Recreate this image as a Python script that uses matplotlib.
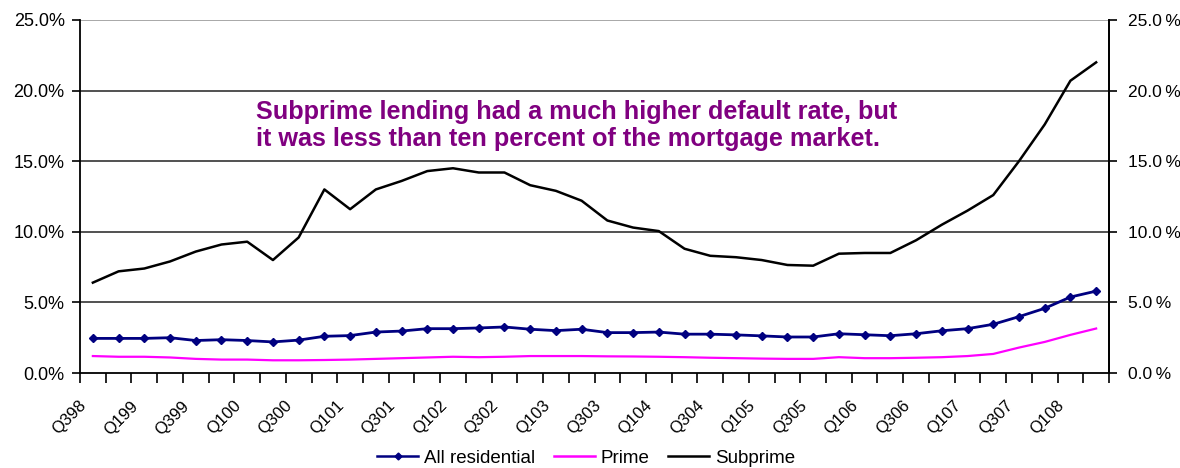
import matplotlib
matplotlib.use("Agg")
import matplotlib.pyplot as plt
from matplotlib.ticker import FuncFormatter, FixedLocator
import matplotlib.transforms as mtransforms

plt.rcParams['font.family'] = ['Liberation Sans', 'DejaVu Sans']

quarters = []
for yr in range(1998, 2009):
    for q in range(1, 5):
        if (yr == 1998 and q < 3) or (yr == 2008 and q > 2):
            continue
        quarters.append(f"Q{q}{yr % 100:02d}")

all_residential = [2.45, 2.45, 2.45, 2.5, 2.3, 2.36, 2.3, 2.2, 2.33, 2.6,
                   2.65, 2.9, 2.97, 3.14, 3.14, 3.19, 3.26, 3.1, 3.0, 3.1,
                   2.86, 2.86, 2.9, 2.75, 2.75, 2.7, 2.63, 2.55, 2.55, 2.78,
                   2.71, 2.64, 2.78, 2.99, 3.14, 3.45, 3.99, 4.58, 5.38, 5.8]
prime = [1.2, 1.15, 1.15, 1.1, 1.0, 0.95, 0.95, 0.9, 0.9, 0.92,
         0.95, 1.0, 1.05, 1.1, 1.15, 1.12, 1.15, 1.2, 1.2, 1.2,
         1.18, 1.17, 1.15, 1.12, 1.08, 1.05, 1.02, 1.0, 1.0, 1.12,
         1.05, 1.05, 1.08, 1.12, 1.2, 1.35, 1.8, 2.2, 2.7, 3.15]
subprime = [6.4, 7.2, 7.4, 7.9, 8.6, 9.1, 9.3, 8.0, 9.6, 13.0,
            11.6, 13.0, 13.6, 14.3, 14.5, 14.2, 14.2, 13.3, 12.9, 12.2,
            10.8, 10.3, 10.05, 8.8, 8.3, 8.2, 8.0, 7.65, 7.6, 8.45,
            8.5, 8.5, 9.4, 10.5, 11.5, 12.6, 15.0, 17.6, 20.7, 22.0]

yticks = [0, 5, 10, 15, 20, 25]
annotation = "Subprime lending had a much higher default rate, but\nit was less than ten percent of the mortgage market."

fig = plt.figure(figsize=(11.8, 4.68), dpi=100)
ax = fig.add_axes([80/1180, 1-373/468, (1109-80)/1180, (373-20)/468])

x = list(range(len(quarters)))
ax.plot(x, all_residential, color='#000080', lw=2.0, marker='D', ms=4.5, label='All residential')
ax.plot(x, prime, color='#FF00FF', lw=1.6, label='Prime')
ax.plot(x, subprime, color='black', lw=1.8, label='Subprime')

ax.set_xlim(-0.5, len(quarters) - 0.5)
ax.set_ylim(0, 25)
for v in yticks[1:]:
    ax.axhline(v, color='#333333' if v < 25 else '#999999', lw=1.2, zorder=0)

ax.spines['top'].set_visible(False)
for s in ['left', 'right', 'bottom']:
    ax.spines[s].set_color('black')
    ax.spines[s].set_linewidth(1.3)

ax.set_yticks(yticks)
ax.yaxis.set_major_formatter(FuncFormatter(lambda v, p: f"{v:.1f}%"))
ax.tick_params(axis='y', direction='out', length=6, width=1.2, labelsize=13, pad=5)

ax2 = ax.twinx()
ax2.set_ylim(0, 25)
ax2.set_yticks(yticks)
ax2.yaxis.set_major_formatter(FuncFormatter(lambda v, p: f"{v:.1f}\u2009%"))
ax2.tick_params(axis='y', direction='out', length=6, width=1.2, labelsize=12.5, pad=8)
for s in ['top', 'left', 'bottom']:
    ax2.spines[s].set_visible(False)
ax2.spines['right'].set_linewidth(1.3)

ax.xaxis.set_major_locator(FixedLocator([i - 0.5 for i in range(len(quarters) + 1)]))
ax.xaxis.set_major_formatter(FuncFormatter(lambda v, p: ""))
ax.tick_params(axis='x', which='major', direction='out', length=7, width=1.2)
ax.xaxis.set_minor_locator(FixedLocator(x[::2]))
ax.xaxis.set_minor_formatter(FuncFormatter(lambda v, p: quarters[int(round(v))]))
ax.tick_params(axis='x', which='minor', length=0, labelsize=12, pad=18)
offset = mtransforms.ScaledTranslation(-14/100, 0, fig.dpi_scale_trans)
for lbl in ax.xaxis.get_minorticklabels():
    lbl.set_rotation(45)
    lbl.set_ha('right')
    lbl.set_va('top')
    lbl.set_rotation_mode('anchor')
    lbl.set_transform(lbl.get_transform() + offset)

fig.text(256/1180, 1-100/468, annotation, color='#800080', fontsize=18.2,
         fontweight='bold', va='top', ha='left', linespacing=1.15)

leg = fig.legend(loc='center', bbox_to_anchor=(586/1180, 1-458/468), ncol=3,
                 frameon=False, fontsize=13.5, handlelength=2.2, columnspacing=1.0,
                 handletextpad=0.3)
for h in leg.legend_handles:
    h.set_markersize(3.5)
    h.set_linewidth(1.8)

fig.savefig('out.png', dpi=100)
